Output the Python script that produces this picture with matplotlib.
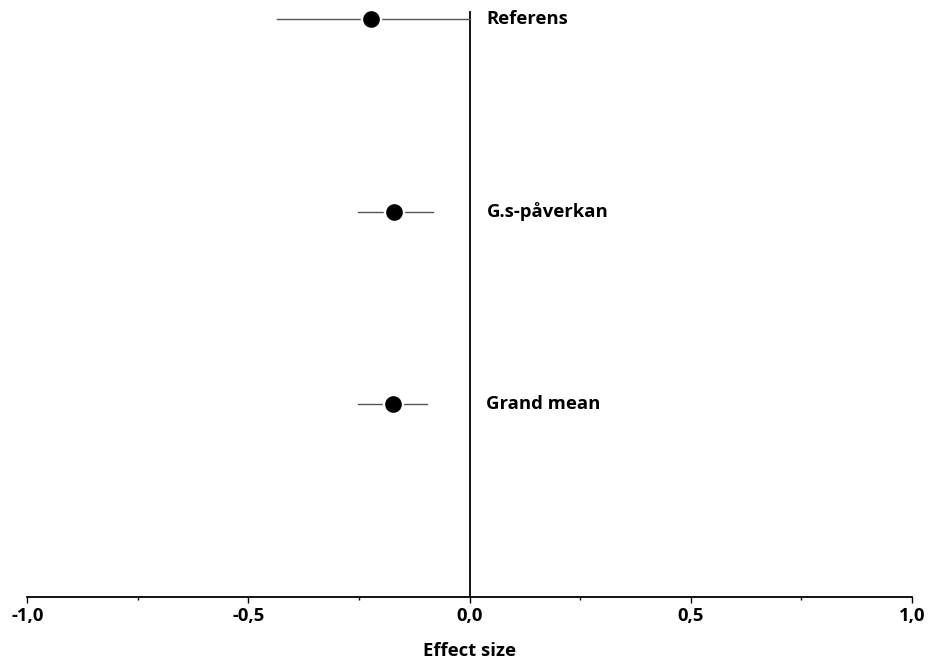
import numpy as np
import matplotlib
matplotlib.use("Agg")
import matplotlib.pyplot as plt
from matplotlib.ticker import FixedLocator

# forest plot data
labels = ["Referens", "G.s-påverkan", "Grand mean"]
effect = [-0.224, -0.171, -0.174]
ci_low = [-0.436, -0.252, -0.252]
ci_high = [0.0, -0.082, -0.096]
rows = [3, 2, 1]

xticks = [-1.0, -0.5, 0.0, 0.5, 1.0]
xticklabels = ["-1,0", "-0,5", "0,0", "0,5", "1,0"]
minor_ticks = [-0.75, -0.25, 0.25, 0.75]

plt.rcParams['font.family'] = ['Open Sans', 'DejaVu Sans']

fig = plt.figure(figsize=(9.3, 6.59), dpi=100)
ax = fig.add_axes([0.0294, 0.0941, 0.9512, 0.9059])

ax.set_xlim(-1, 1)
ax.set_ylim(0, 3.1)

# zero line
ax.plot([0, 0], [0, 3.04], color='black', lw=1.3, zorder=1)

for y, e, lo, hi, lab in zip(rows, effect, ci_low, ci_high, labels):
	ax.plot([lo, hi], [y, y], color='#555555', lw=1.0, zorder=2)
	ax.plot(e, y, 'o', color='white', ms=15.5, mew=0, zorder=3)
	ax.plot(e, y, 'o', color='black', ms=12, mew=0, zorder=4)
	ax.text(0.038, y, lab, fontsize=13.3, fontweight='bold', va='center', ha='left')

for s in ['top', 'right', 'left']:
	ax.spines[s].set_visible(False)
ax.spines['bottom'].set_linewidth(1.3)
ax.set_yticks([])

ax.xaxis.set_major_locator(FixedLocator(xticks))
ax.set_xticklabels(xticklabels, fontsize=13.3, fontweight='bold')
ax.xaxis.set_minor_locator(FixedLocator(minor_ticks))
ax.tick_params(axis='x', which='major', direction='out', length=4, width=1, pad=3)
ax.tick_params(axis='x', which='minor', direction='out', length=2.5, width=1)

ax.set_xlabel("Effect size", fontsize=13.3, fontweight='bold', labelpad=12.5)

fig.savefig("out.png", dpi=100)
